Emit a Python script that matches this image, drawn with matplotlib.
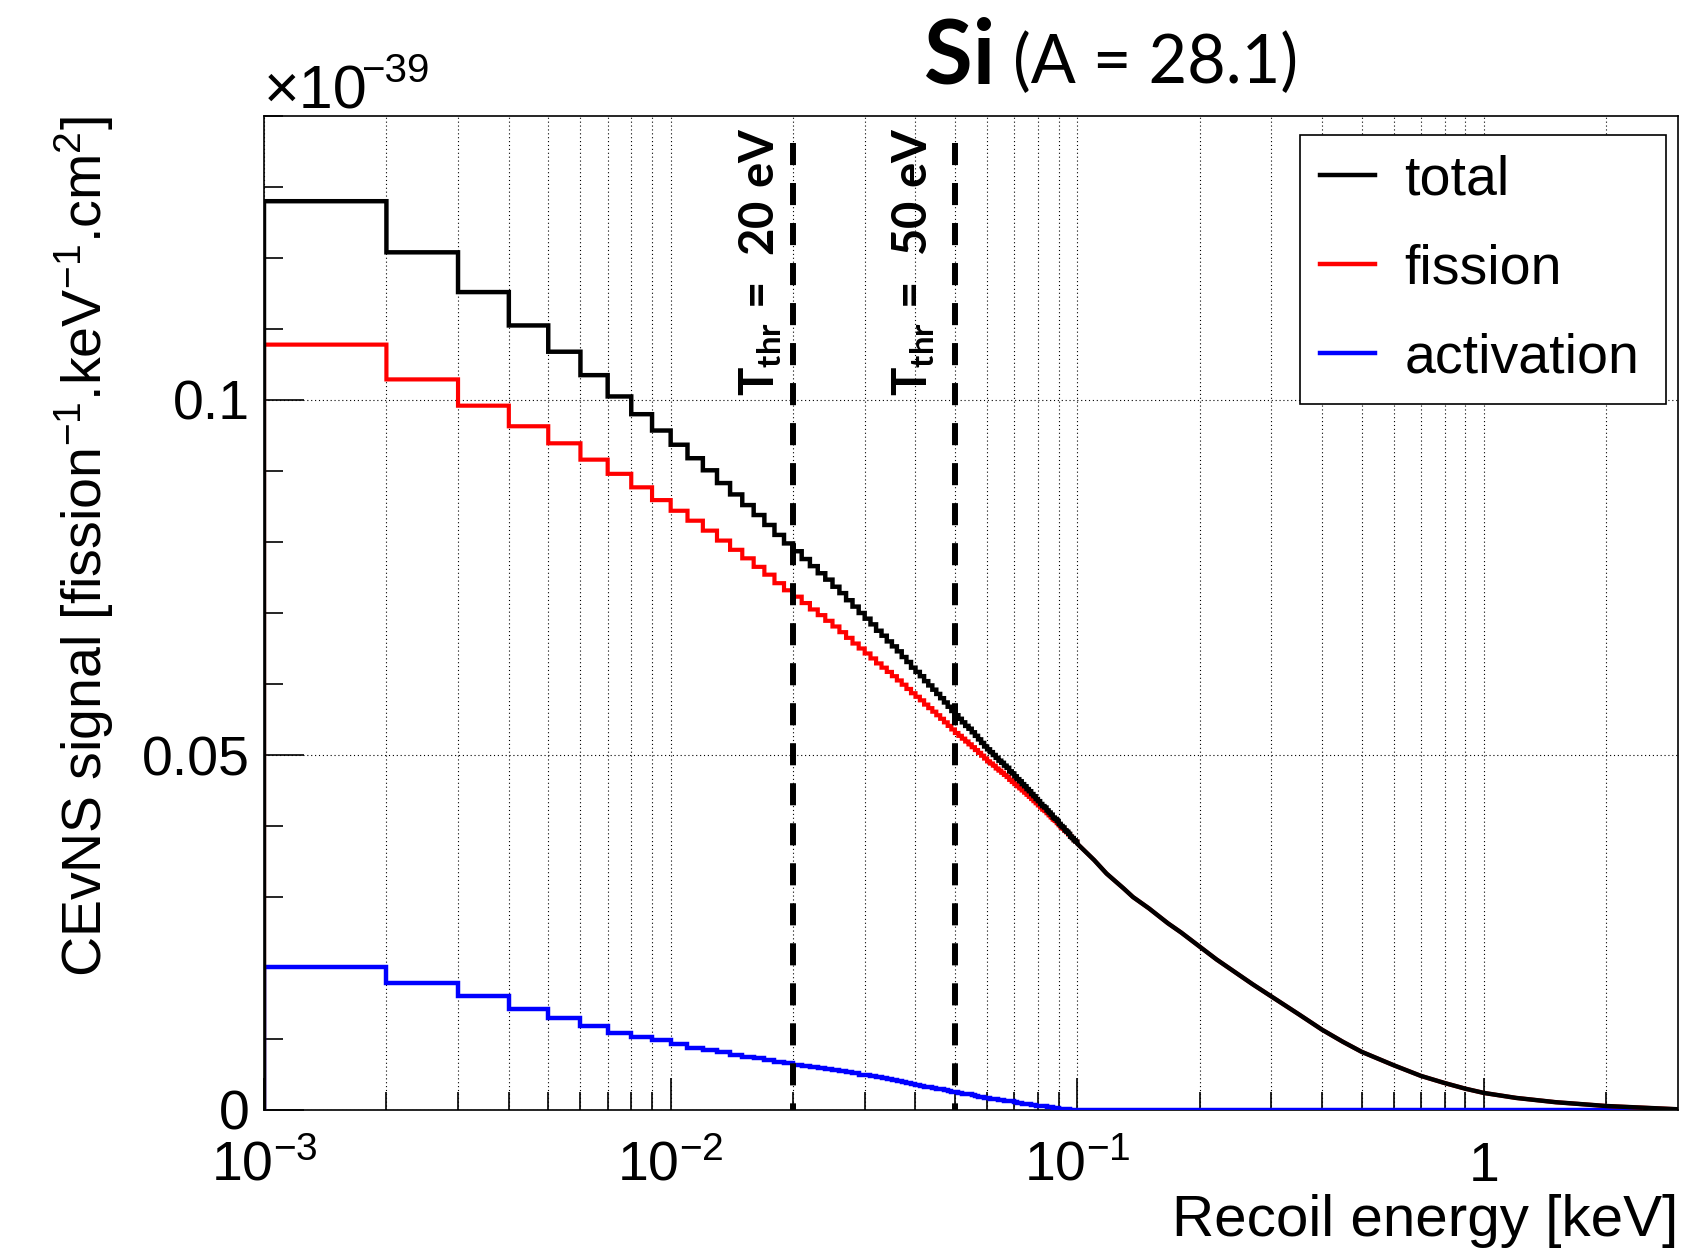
import numpy as np
import matplotlib
matplotlib.use("Agg")
import matplotlib.pyplot as plt
from matplotlib.lines import Line2D
from matplotlib.ticker import FixedLocator, NullFormatter, MultipleLocator
from matplotlib.transforms import offset_copy

plt.rcParams['font.family'] = ['Liberation Sans', 'DejaVu Sans']
plt.rcParams['mathtext.fontset'] = 'custom'
plt.rcParams['mathtext.rm'] = 'Liberation Sans'
plt.rcParams['mathtext.it'] = 'Liberation Sans:italic'
plt.rcParams['mathtext.bf'] = 'Lato:bold'

# histogram bins: width 1 eV, from 1 eV to 100 eV (values in 1e-39 /fission/keV cm2)
bin_width = 0.001
fission_bins = [
    0.1078, 0.1029, 0.0992, 0.0963, 0.0939, 0.0916, 0.0896, 0.0877, 0.0859, 0.0844,
    0.0830, 0.0816, 0.0802, 0.0789, 0.0777, 0.0765, 0.0754, 0.0742, 0.0732, 0.0723,
    0.0714, 0.0705, 0.0697, 0.0689, 0.0681, 0.0673, 0.0665, 0.0657, 0.0650, 0.0643,
    0.0636, 0.0629, 0.0623, 0.0617, 0.0611, 0.0605, 0.0599, 0.0593, 0.0587, 0.0582,
    0.0577, 0.0571, 0.0566, 0.0561, 0.0556, 0.0551, 0.0546, 0.0541, 0.0536, 0.0531,
    0.0527, 0.0523, 0.0519, 0.0515, 0.0511, 0.0507, 0.0503, 0.0499, 0.0495, 0.0491,
    0.0488, 0.0485, 0.0481, 0.0478, 0.0475, 0.0472, 0.0469, 0.0465, 0.0462, 0.0459,
    0.0456, 0.0453, 0.0450, 0.0447, 0.0444, 0.0441, 0.0438, 0.0435, 0.0432, 0.0429,
    0.0426, 0.0423, 0.0421, 0.0418, 0.0415, 0.0412, 0.0409, 0.0407, 0.0404, 0.0401,
    0.0398, 0.0396, 0.0393, 0.0391, 0.0388, 0.0385, 0.0383, 0.0380, 0.0378,
]
activation_bins = [
    0.0202, 0.0179, 0.0160, 0.0142, 0.0129, 0.0119, 0.0109, 0.0103, 0.0098, 0.0093,
    0.0088, 0.0085, 0.0081, 0.0078, 0.0075, 0.0073, 0.0070, 0.0068, 0.0066, 0.0064,
    0.0062, 0.0061, 0.0059, 0.0058, 0.0056, 0.0055, 0.0053, 0.0052, 0.0050, 0.0049,
    0.0048, 0.0046, 0.0045, 0.0043, 0.0042, 0.0041, 0.0039, 0.0038, 0.0036, 0.0035,
    0.0034, 0.0033, 0.0032, 0.0031, 0.0030, 0.0029, 0.0028, 0.0027, 0.0026, 0.0025,
    0.0024, 0.0023, 0.0022, 0.0022, 0.0021, 0.0020, 0.0019, 0.0018, 0.0017, 0.0017,
    0.0016, 0.0015, 0.0015, 0.0014, 0.0014, 0.0013, 0.0013, 0.0012, 0.0012, 0.0011,
    0.0010, 0.0010, 0.0009, 0.0009, 0.0008, 0.0008, 0.0007, 0.0007, 0.0006, 0.0006,
    0.0005, 0.0005, 0.0005, 0.0004, 0.0004, 0.0004, 0.0003, 0.0003, 0.0003, 0.0002,
    0.0002, 0.0002, 0.0001, 0.0001, 0.0001, 0.0, 0.0, 0.0, 0.0,
]

# above 100 eV the 1 eV bins are too narrow to see: points
tail_energy = [0.1, 0.11, 0.118, 0.13, 0.137, 0.15, 0.167, 0.18, 0.2, 0.22, 0.243,
               0.27, 0.3, 0.35, 0.4, 0.45, 0.5, 0.6, 0.7, 0.8, 0.9, 1.0, 1.2, 1.5,
               2.0, 2.5, 3.0]
tail_fission = [0.0375, 0.0352, 0.0333, 0.0312, 0.0300, 0.0284, 0.0263, 0.0250,
                0.0230, 0.0212, 0.0195, 0.0177, 0.0160, 0.0135, 0.0113, 0.0096,
                0.0082, 0.0063, 0.0048, 0.0038, 0.0030, 0.0024, 0.0017, 0.0011,
                0.00056, 0.00030, 0.0001]
tail_activation = [0.0] * len(tail_energy)

thresholds = [0.02, 0.05]
threshold_labels = ["20", "50"]
threshold_shift = [-19, -27]

x_major = [1e-3, 1e-2, 1e-1, 1.0]
x_major_labels = [r"$10^{-3}$", r"$10^{-2}$", r"$10^{-1}$", "1"]


def hist_path(bins, tail_e, tail_v):
    edges = bin_width * np.arange(1, len(bins) + 2)
    xs = [edges[0]]
    ys = [0.0]
    for i, v in enumerate(bins):
        xs += [edges[i], edges[i + 1]]
        ys += [v, v]
    xs += list(tail_e)
    ys += list(tail_v)
    return xs, ys


total_bins = list(np.array(fission_bins) + np.array(activation_bins))
tail_total = list(np.array(tail_fission) + np.array(tail_activation))

fig = plt.figure(figsize=(16.9, 12.5), dpi=100)
ax = fig.add_axes([264 / 1690, 140 / 1250, 1414 / 1690, 994 / 1250])

ax.set_xscale("log")
ax.set_xlim(1e-3, 3.0)
ax.set_ylim(0, 0.14)

# ticks and ROOT-style dotted grid
ax.set_xticks(x_major)
ax.set_xticklabels(x_major_labels)
ax.xaxis.set_minor_locator(FixedLocator(
    [m * d for d in (1e-3, 1e-2, 1e-1, 1.0) for m in range(2, 10) if m * d < 3.0]))
ax.xaxis.set_minor_formatter(NullFormatter())
ax.set_yticks([0, 0.05, 0.1])
ax.set_yticklabels(["0", "0.05", "0.1"])
ax.yaxis.set_minor_locator(MultipleLocator(0.01))
grid_kw = dict(color="k", linewidth=0.8, linestyle=(0, (1, 2.5)))
ax.grid(True, which="both", axis="x", **grid_kw)
ax.grid(True, which="major", axis="y", **grid_kw)
ax.set_axisbelow(True)

ax.tick_params(axis="both", which="both", direction="in", colors="k", width=1.2,
               labelsize=40, top=False, right=False)
ax.tick_params(axis="x", which="major", length=23, pad=22)
ax.tick_params(axis="x", which="minor", length=13)
ax.tick_params(axis="y", which="major", length=29, pad=10)
ax.tick_params(axis="y", which="minor", length=14)
for sp in ax.spines.values():
    sp.set_linewidth(1.2)
    sp.set_color("k")

# histograms
xa, ya = hist_path(activation_bins, tail_energy, tail_activation)
xf, yf = hist_path(fission_bins, tail_energy, tail_fission)
xt, yt = hist_path(total_bins, tail_energy, tail_total)
ax.plot(xa, ya, color="#0000ff", linewidth=3.2, solid_joinstyle="miter", zorder=3)
ax.plot(xf, yf, color="#ff0000", linewidth=3.0, solid_joinstyle="miter", zorder=4)
ax.plot(xt, yt, color="k", linewidth=3.2, solid_joinstyle="miter", zorder=5)

# thresholds
for e, lab, sh in zip(thresholds, threshold_labels, threshold_shift):
    ax.plot([e, e], [0.1362, 0.0], color="k", linewidth=4.3,
            linestyle=(0, (3.7, 3.0)), zorder=6)
    tr = offset_copy(ax.get_xaxis_transform(), fig=fig, x=sh, y=0, units="dots")
    ax.text(e, 0.718,
            r"$\mathbf{T}_{\mathbf{thr}}\,\mathbf{=}\;\,\mathbf{" + lab + r"\ eV}$",
            transform=tr, rotation=90, rotation_mode="anchor", ha="left",
            va="baseline", fontsize=34, zorder=7)

# legend
handles = [Line2D([], [], color="k", linewidth=3.2),
           Line2D([], [], color="#ff0000", linewidth=3.2),
           Line2D([], [], color="#0000ff", linewidth=3.2)]
leg = ax.legend(handles, ["total", "fission", "activation"], loc="upper left",
                bbox_to_anchor=(0.733, 0.713, 0.2585, 0.268), mode="expand",
                borderaxespad=0, fontsize=40, frameon=True, fancybox=False,
                borderpad=0.35, labelspacing=0.67, handlelength=1.0,
                handletextpad=0.52)
leg.get_frame().set_edgecolor("k")
leg.get_frame().set_linewidth(1.2)
leg.get_frame().set_alpha(1)
leg.set_zorder(10)

# axis titles
ax.set_ylabel(r"CEvNS signal [fission$^{-1}$.keV$^{-1}$.cm$^{2}$]", fontsize=40,
              loc="top")
ax.yaxis.set_label_coords(-0.105, 1.0)
ax.set_xlabel("Recoil energy [keV]", fontsize=42, loc="right")
ax.xaxis.set_label_coords(1.0, -0.085)
ax.text(0.0, 1.008, "\u00d710", transform=ax.transAxes, fontsize=44,
        ha="left", va="baseline")
ax.text(0.0686, 1.034, "\u221239", transform=ax.transAxes, fontsize=29,
        ha="left", va="baseline")

# title
fig.text(924 / 1690, 1 - 83 / 1250, "Si", fontsize=64, fontweight="bold",
         family="Lato", ha="left", va="baseline")
fig.text(1013 / 1690, 1 - 83 / 1250, "(A = 28.1)", fontsize=48,
         family="Lato", ha="left", va="baseline")

fig.savefig("out.png", dpi=100)
